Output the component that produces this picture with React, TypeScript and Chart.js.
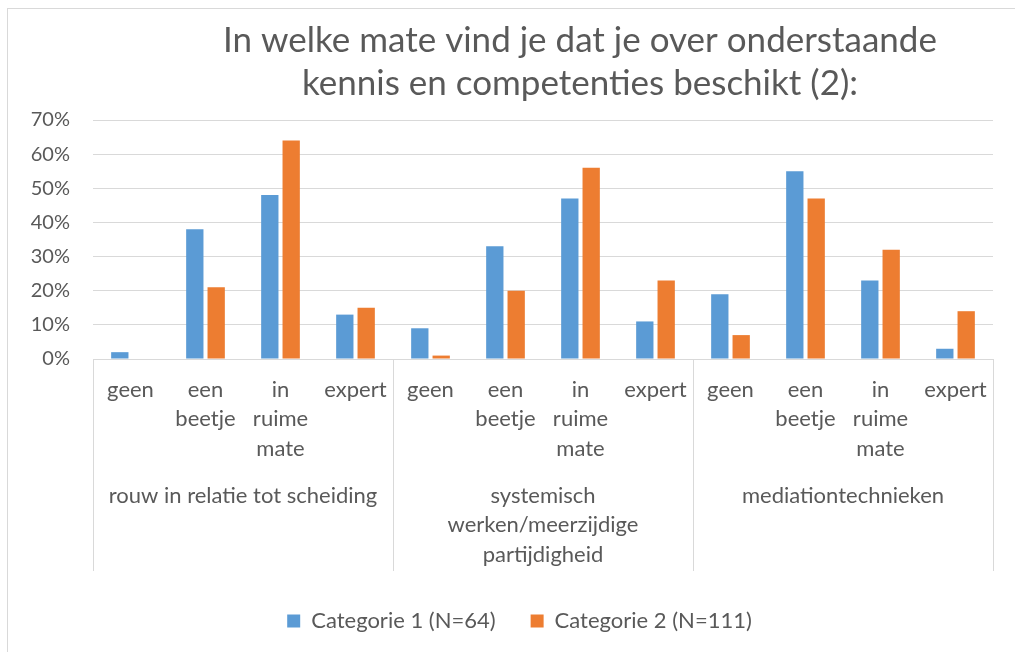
import React, { useEffect, useRef } from 'react';
import { Chart, registerables } from 'chart.js';

Chart.register(...registerables);

const titleLines = ['In welke mate vind je dat je over onderstaande', 'kennis en competenties beschikt (2):'];
const levels = [['geen'], ['een', 'beetje'], ['in', 'ruime', 'mate'], ['expert']];
const subCategories = [...levels, ...levels, ...levels];
const groups = [
  ['rouw in relatie tot scheiding'],
  ['systemisch', 'werken/meerzijdige', 'partijdigheid'],
  ['mediationtechnieken'],
];
const series1Name = 'Categorie 1 (N=64)';
const series1 = [2, 38, 48, 13, 9, 33, 47, 11, 19, 55, 23, 3];
const series2Name = 'Categorie 2 (N=111)';
const series2 = [0, 21, 64, 15, 1, 20, 56, 23, 7, 47, 32, 14];
const yMax = 70;
const yStep = 10;

const FONT = 'Lato';
const TEXT = '#595959';
const GRID = '#d9d9d9';
const CANVAS_LEFT = 8;
const CANVAS_TOP = 9;
const CANVAS_W = 1023;
const CANVAS_H = 643;
const AXIS_BAND = 106;

const titlePlugin = {
  id: 'excelTitle',
  afterDraw(chart: any) {
    const ctx = chart.ctx;
    ctx.save();
    ctx.font = `35px ${FONT}`;
    ctx.fillStyle = TEXT;
    ctx.textAlign = 'center';
    ctx.textBaseline = 'middle';
    ctx.fillText(titleLines[0], 580 - CANVAS_LEFT, 41 - CANVAS_TOP);
    ctx.fillText(titleLines[1], 580 - CANVAS_LEFT, 84 - CANVAS_TOP);
    ctx.restore();
  },
};

const separatorPlugin = {
  id: 'groupSeparators',
  afterDraw(chart: any) {
    const ctx = chart.ctx;
    const x = chart.scales.x;
    const x2 = chart.scales.x2;
    const n = subCategories.length;
    const per = n / groups.length;
    const xs: number[] = [chart.chartArea.left];
    for (let g = 1; g < groups.length; g++) {
      const i = g * per;
      xs.push((x.getPixelForValue(i - 1) + x.getPixelForValue(i)) / 2);
    }
    xs.push(chart.chartArea.right);
    ctx.save();
    ctx.strokeStyle = GRID;
    ctx.lineWidth = 1;
    for (const px of xs) {
      const p = Math.round(px) + 0.5;
      ctx.beginPath();
      ctx.moveTo(p, chart.chartArea.bottom);
      ctx.lineTo(p, x2.top + AXIS_BAND);
      ctx.stroke();
    }
    ctx.restore();
  },
};

export default function App() {
  const ref = useRef<HTMLCanvasElement | null>(null);

  useEffect(() => {
    if (!ref.current) return;
    Chart.defaults.font.family = FONT;
    const labelFont = { size: 22, family: FONT, lineHeight: 29.5 / 22 };
    const chart = new Chart(ref.current, {
      type: 'bar',
      data: {
        labels: subCategories,
        datasets: [
          {
            label: series1Name,
            data: series1,
            backgroundColor: '#5b9bd5',
            categoryPercentage: 0.57,
            barPercentage: 0.81,
          },
          {
            label: series2Name,
            data: series2,
            backgroundColor: '#ed7d31',
            categoryPercentage: 0.57,
            barPercentage: 0.81,
          },
        ],
      },
      options: {
        responsive: false,
        animation: false,
        devicePixelRatio: 1,
        layout: { padding: { top: 111, right: 0, left: 0, bottom: 10 } },
        plugins: {
          title: { display: false },
          tooltip: { enabled: false },
          legend: {
            position: 'bottom',
            labels: {
              boxWidth: 13,
              boxHeight: 13,
              padding: 35,
              color: TEXT,
              font: { size: 22, family: FONT },
            },
          },
        },
        scales: {
          y: {
            min: 0,
            max: yMax,
            ticks: {
              stepSize: yStep,
              autoSkip: false,
              color: TEXT,
              padding: 23,
              font: { size: 20, family: FONT },
              callback: (v: any) => `${v}%`,
            },
            grid: { color: GRID, lineWidth: 1, drawTicks: false },
            border: { display: false },
            afterFit: (scale: any) => {
              scale.width = 93 - CANVAS_LEFT;
            },
          },
          yRight: {
            type: 'linear',
            position: 'right',
            display: true,
            ticks: { display: false },
            grid: { display: false, drawTicks: false },
            border: { display: false },
            afterFit: (scale: any) => {
              scale.width = CANVAS_LEFT + CANVAS_W - 993;
            },
          },
          x: {
            type: 'category',
            position: 'bottom',
            weight: 0,
            grid: { display: false, drawTicks: false },
            border: { display: true, color: GRID, width: 1 },
            ticks: {
              autoSkip: false,
              maxRotation: 0,
              minRotation: 0,
              padding: 16,
              color: TEXT,
              font: labelFont,
            },
            afterFit: (scale: any) => {
              scale.height = AXIS_BAND;
            },
          },
          x2: {
            type: 'category',
            position: 'bottom',
            weight: 1,
            labels: groups as any,
            offset: true,
            grid: { display: false, drawTicks: false },
            border: { display: false },
            ticks: {
              autoSkip: false,
              maxRotation: 0,
              minRotation: 0,
              padding: 16,
              color: TEXT,
              font: labelFont,
            },
            afterFit: (scale: any) => {
              scale.height = AXIS_BAND + 4;
            },
          },
        },
      } as any,
      plugins: [titlePlugin, separatorPlugin],
    });
    return () => chart.destroy();
  }, []);

  return (
    <div
      style={{
        position: 'fixed',
        left: 7,
        top: 8,
        width: 1040,
        height: 660,
        border: `1px solid ${GRID}`,
        background: '#fff',
        boxSizing: 'border-box',
      }}
    >
      <canvas
        ref={ref}
        width={CANVAS_W}
        height={CANVAS_H}
        style={{ display: 'block', width: CANVAS_W, height: CANVAS_H }}
      />
    </div>
  );
}
